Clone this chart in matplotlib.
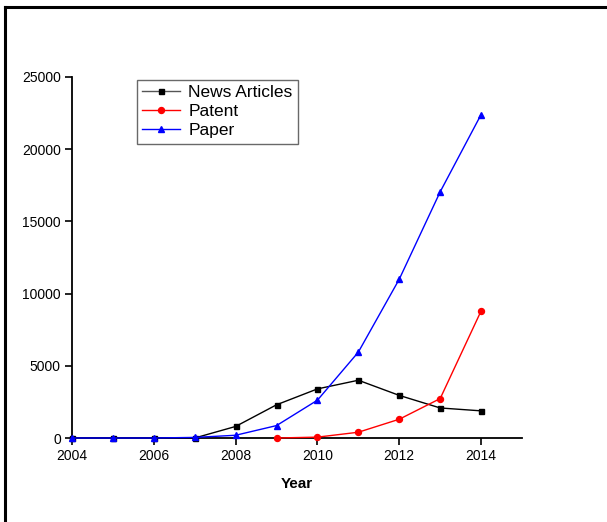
import matplotlib
matplotlib.use("Agg")
import matplotlib.pyplot as plt
from matplotlib.lines import Line2D

plt.rcParams['font.family'] = ['Liberation Sans', 'DejaVu Sans']

years_news = [2004, 2005, 2006, 2007, 2008, 2009, 2010, 2011, 2012, 2013, 2014]
news = [0, 0, 0, 0, 800, 2300, 3400, 4000, 2950, 2080, 1880]

years_patent = [2009, 2010, 2011, 2012, 2013, 2014]
patent = [0, 60, 400, 1300, 2730, 8800]

years_paper = [2004, 2005, 2006, 2007, 2008, 2009, 2010, 2011, 2012, 2013, 2014]
paper = [0, 0, 0, 40, 190, 860, 2620, 5950, 11000, 17050, 22400]

xticks = [2004, 2006, 2008, 2010, 2012, 2014]
yticks = [0, 5000, 10000, 15000, 20000, 25000]

fig = plt.figure(figsize=(6.07, 5.22), dpi=100)
ax = fig.add_axes([72 / 607, 1 - 438 / 522, 450 / 607, 361 / 522])

ax.plot(years_news, news, color='black', lw=1.0, marker='s', ms=3.6, label='News Articles', zorder=3)
ax.plot(years_patent, patent, color='red', lw=1.0, marker='o', ms=4.3, label='Patent', zorder=4)
ax.plot(years_paper, paper, color='blue', lw=1.0, marker='^', ms=4.8, label='Paper', zorder=5)

ax.set_xlim(2004, 2015)
ax.set_ylim(0, 25000)
ax.set_xticks(xticks)
ax.set_yticks(yticks)
ax.tick_params(direction='out', length=5, width=1.2, labelsize=10, pad=3)
for s in ['top', 'right']:
    ax.spines[s].set_visible(False)
for s in ['left', 'bottom']:
    ax.spines[s].set_linewidth(1.3)
    ax.spines[s].set_clip_on(False)
for line in ax.get_lines():
    line.set_clip_on(False)

ax.set_xlabel('Year', fontsize=11, fontweight='bold', labelpad=10)

leg = ax.legend(loc='upper left', bbox_to_anchor=(65 / 450, 358 / 361), fontsize=12.5,
                frameon=True, fancybox=False, edgecolor='#444444',
                handlelength=2.2, handletextpad=0.45, borderpad=0.3,
                labelspacing=0.22, borderaxespad=0.0)
leg.get_frame().set_linewidth(1.0)
leg.get_lines()[0].set_color('#555555')
leg.get_lines()[0].set_markerfacecolor('black')
leg.get_lines()[0].set_markeredgecolor('black')

# outer border of the figure panel
fig.add_artist(Line2D([5 / 607, 1.0], [1 - 7 / 522, 1 - 7 / 522], color='black', lw=2.2,
                      transform=fig.transFigure))
fig.add_artist(Line2D([5 / 607, 5 / 607], [0.0, 1 - 7 / 522], color='black', lw=2.2,
                      transform=fig.transFigure))

fig.savefig('out.png', dpi=100)
